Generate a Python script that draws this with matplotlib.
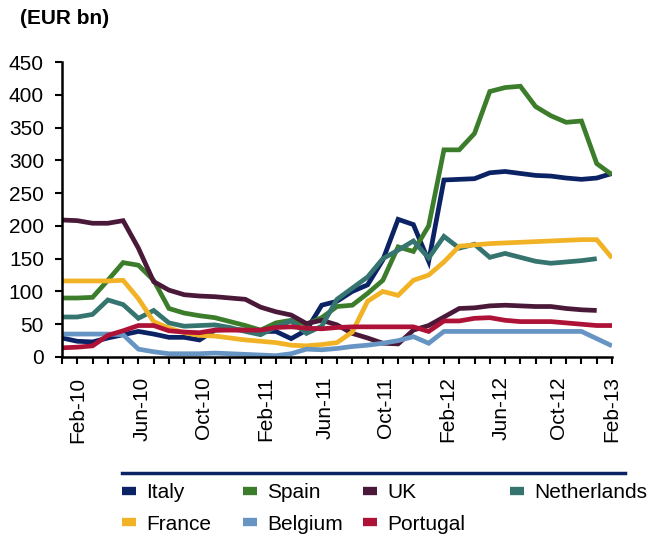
import matplotlib
matplotlib.use("Agg")
import matplotlib.pyplot as plt
import numpy as np
from matplotlib.lines import Line2D
from matplotlib.transforms import ScaledTranslation

plt.rcParams["font.family"] = ["Liberation Sans", "DejaVu Sans"]

# monthly, Feb-10 .. Feb-13
MONTHS = 37
TICK_LABELS = ["Feb-10", "Jun-10", "Oct-10", "Feb-11", "Jun-11",
               "Oct-11", "Feb-12", "Jun-12", "Oct-12", "Feb-13"]

italy = [29, 24, 23, 29, 34, 39, 35, 30, 30, 26, 41, 42, 41, 39, 39, 28, 41, 79, 85,
         100, 110, 148, 210, 202, 146, 270, 271, 272, 281, 283, 280, 277, 276, 273,
         271, 273, 280]
spain = [90, 90, 91, 117, 144, 140, 117, 74, 67, 63, 60, 54, 48, 41, 52, 56, 50, 60,
         77, 79, 97, 117, 168, 161, 200, 316, 316, 341, 405, 411, 413, 382, 368, 358,
         360, 295, 278]
uk = [209, 208, 204, 204, 208, 166, 115, 102, 95, 93, 92, 90, 88, 76, 69, 64, 51, 56,
      49, 36, 29, 21, 20, 41, 48, 61, 74, 75, 78, 79, 78, 77, 77, 74, 72, 71, None]
netherlands = [61, 61, 65, 87, 80, 59, 71, 52, 47, 48, 49, 45, 39, 34, 46, 55, 36, 47,
               88, 105, 122, 150, 163, 177, 151, 184, 166, 172, 152, 158, 152, 146,
               143, 145, 147, 150, None]
france = [116, 116, 116, 116, 117, 89, 54, 44, 37, 33, 32, 29, 26, 24, 22, 18, 17, 19,
          22, 38, 85, 100, 94, 117, 125, 145, 169, 171, 173, 174, 175, 176, 177, 178,
          179, 179, 151]
belgium = [35, 35, 35, 35, 34, 12, 8, 5, 5, 5, 6, 5, 4, 3, 2, 5, 12, 11, 13, 16, 18,
           21, 25, 31, 21, 39, 39, 39, 39, 39, 39, 39, 39, 39, 39, 28, 17]
portugal = [14, 15, 17, 33, 40, 48, 48, 40, 38, 37, 41, 41, 41, 41, 45, 46, 44, 43, 45,
            46, 46, 46, 46, 46, 39, 55, 55, 59, 60, 56, 54, 54, 54, 52, 50, 48, 48]

SERIES = [
    ("Italy", italy, "#0B2265"),
    ("Spain", spain, "#3C7D2C"),
    ("UK", uk, "#4A1838"),
    ("Netherlands", netherlands, "#35746F"),
    ("France", france, "#F1B225"),
    ("Belgium", belgium, "#6795C3"),
    ("Portugal", portugal, "#AE1236"),
]

fig = plt.figure(figsize=(6.5, 5.34), dpi=100)
ax = fig.add_axes([62 / 650, 1 - 357 / 534, 550 / 650, 295 / 534])

x = np.arange(MONTHS)
for name, vals, color in SERIES:
    y = np.array([np.nan if v is None else v for v in vals], dtype=float)
    ax.plot(x, y, color=color, linewidth=3.4, solid_joinstyle="miter",
            solid_capstyle="butt", label=name)

ax.set_xlim(0, MONTHS - 1)
ax.set_ylim(0, 450)
ax.set_yticks(np.arange(0, 451, 50))
ax.tick_params(axis="y", labelsize=15, length=5, width=1.5, pad=8)

ax.set_xticks(x)
ax.set_xticklabels([])
ax.tick_params(axis="x", which="major", length=5, width=1.5)
ax.xaxis.remove_overlapping_locs = False
ax.set_xticks(x[::4], TICK_LABELS, minor=True)
ax.tick_params(axis="x", which="minor", length=0, labelsize=15, pad=14,
               labelrotation=90)
# Excel puts the date labels a little right of the month ticks
shifts_px = [16, 19, 19, 20, 19, 18, 19, 11, 8, 0]
for lab, dx in zip(ax.get_xticklabels(minor=True), shifts_px):
    lab.set_transform(lab.get_transform() +
                      ScaledTranslation(dx / 100, 0, fig.dpi_scale_trans))

for side in ["top", "right"]:
    ax.spines[side].set_visible(False)
for side in ["left", "bottom"]:
    ax.spines[side].set_linewidth(1.8)

fig.text(20 / 650, 1 - 18 / 534, "(EUR bn)", fontsize=15, fontweight="bold",
         va="center", ha="left")

# legend: rule on top, then 4 loose columns
fig.add_artist(Line2D([122 / 650, 625 / 650], [1 - 473 / 534, 1 - 473 / 534],
                      color="#0B2265", linewidth=2.5))
handles = {name: Line2D([], [], color=c, linewidth=6, solid_capstyle="butt")
           for name, _, c in SERIES}
columns = [(["Italy", "France"], 122), (["Spain", "Belgium"], 243),
           (["UK", "Portugal"], 363), (["Netherlands"], 510)]
for names, px in columns:
    leg = fig.legend([handles[n] for n in names], names, loc="upper left",
                     bbox_to_anchor=(px / 650, 1 - 483 / 534), frameon=False,
                     fontsize=15, handlelength=0.65, handletextpad=0.5,
                     labelspacing=0.6, borderpad=0, borderaxespad=0)

fig.savefig("out.png", dpi=100)
